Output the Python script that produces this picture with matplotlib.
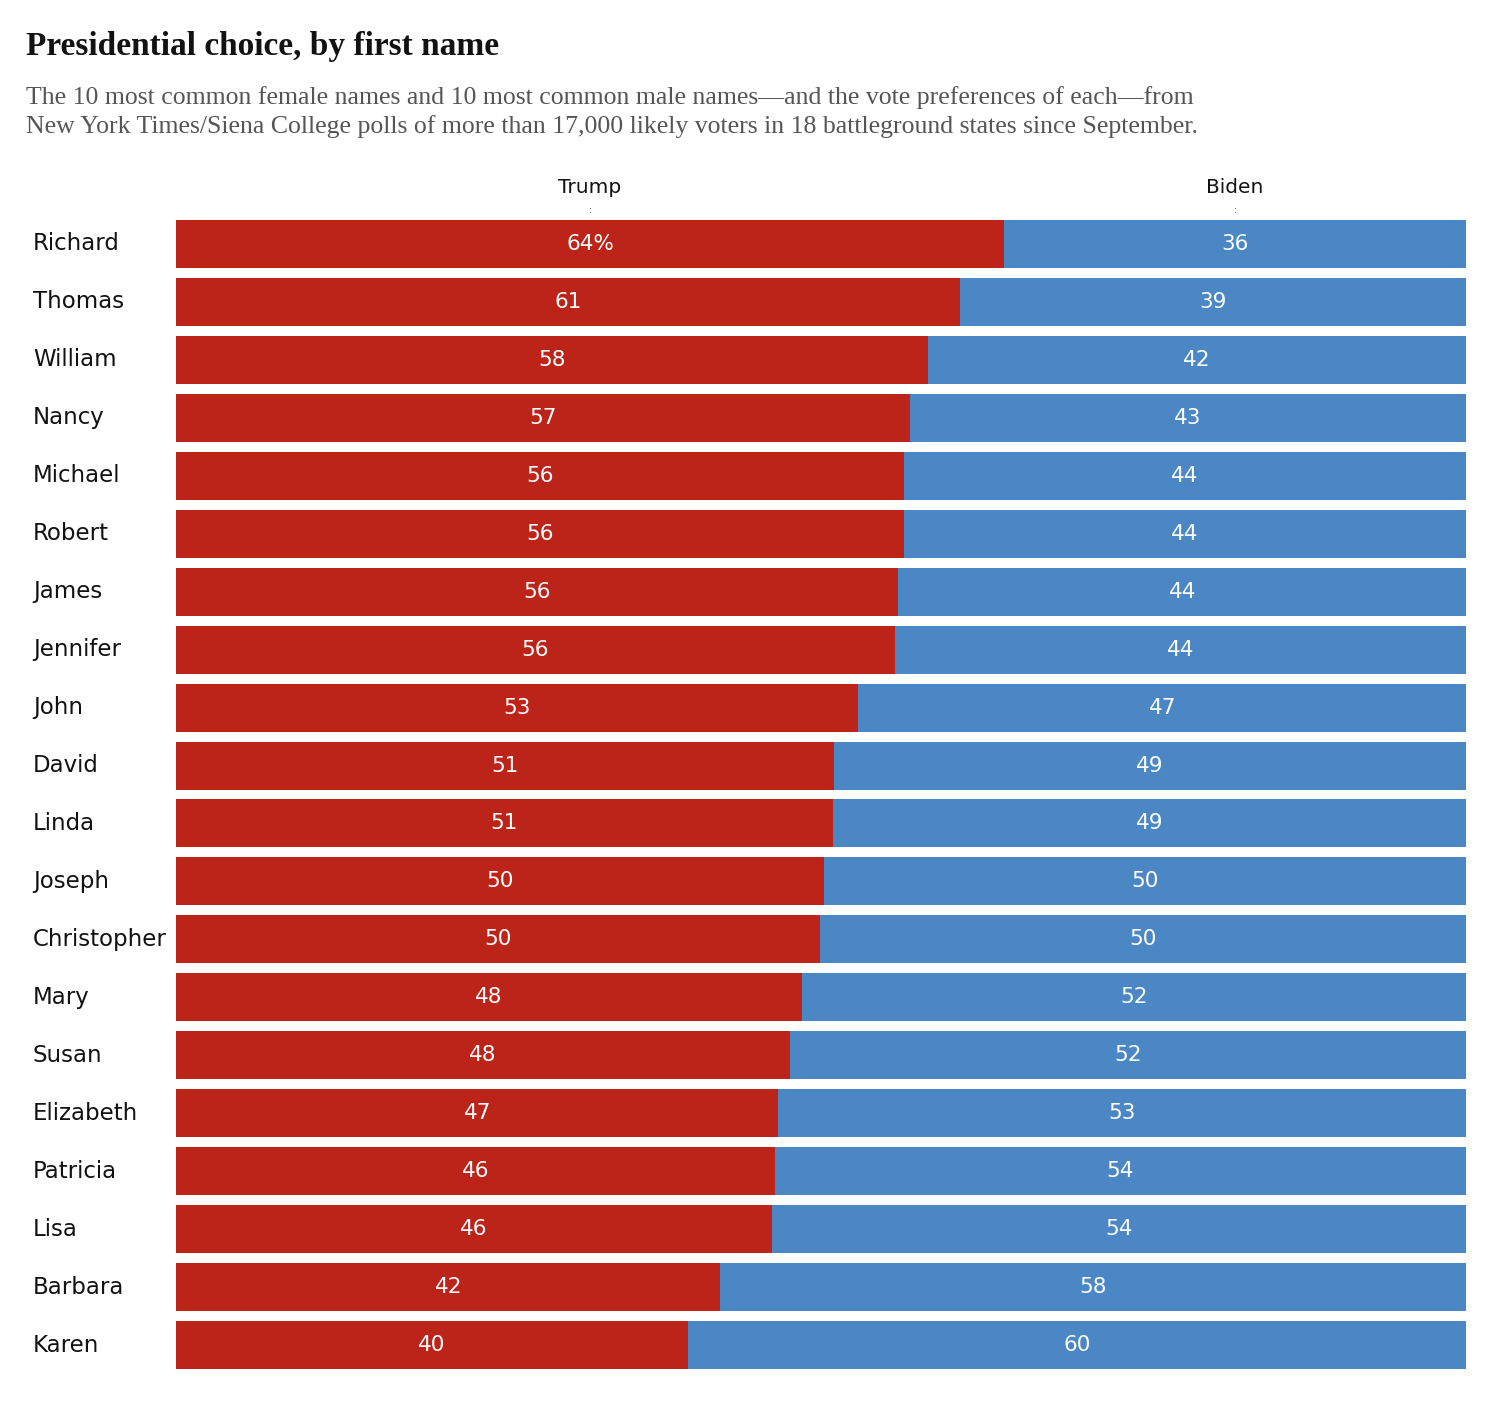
import matplotlib
matplotlib.use('Agg')
import matplotlib.pyplot as plt

names = ['Richard', 'Thomas', 'William', 'Nancy', 'Michael', 'Robert', 'James', 'Jennifer',
         'John', 'David', 'Linda', 'Joseph', 'Christopher', 'Mary', 'Susan', 'Elizabeth',
         'Patricia', 'Lisa', 'Barbara', 'Karen']
trump = [64.2, 60.8, 58.3, 56.9, 56.4, 56.4, 56.0, 55.7, 52.9, 51.0, 50.9, 50.2, 49.9,
         48.5, 47.6, 46.7, 46.4, 46.2, 42.2, 39.7]
trump_lbl = ['64%', '61', '58', '57', '56', '56', '56', '56', '53', '51', '51', '50', '50',
             '48', '48', '47', '46', '46', '42', '40']
biden_lbl = ['36', '39', '42', '43', '44', '44', '44', '44', '47', '49', '49', '50', '50',
             '52', '52', '53', '54', '54', '58', '60']

red = '#bd2419'
blue = '#4b87c5'
W, H = 1498, 1406

fig = plt.figure(figsize=(W / 100, H / 100), dpi=100)
ax = fig.add_axes([176 / W, 1 - 1369 / H, (1466 - 176) / W, (1369 - 220) / H])

h = 48 / 58
pad = (1 - h) / 2
ys = range(len(names))
biden = [100 - t for t in trump]
ax.barh(ys, trump, height=h, color=red)
ax.barh(ys, biden, left=trump, height=h, color=blue)
for i in ys:
    ax.text(trump[i] / 2, i, trump_lbl[i], color='white', ha='center', va='center', fontsize=15.5)
    ax.text(trump[i] + biden[i] / 2, i, biden_lbl[i], color='white', ha='center', va='center', fontsize=15.5)
    ax.text(-0.111 * 100, i, names[i], ha='left', va='center', fontsize=16.5, color='#121212')

ax.set_xlim(0, 100)
ax.set_ylim(len(names) - 1 + 0.5 + (0.5 - pad) * 0 - pad + 0.5 - 0.5 + 0.0, -0.5 + pad * 0)
ax.set_ylim(len(names) - 1 + h / 2, -h / 2)
ax.axis('off')

# column headers
ax.text(trump[0] / 2, -h / 2 - 0.56, 'Trump', ha='center', va='center', fontsize=14.5, color='#121212')
ax.text(trump[0] + biden[0] / 2, -h / 2 - 0.56, 'Biden', ha='center', va='center', fontsize=14.5, color='#121212')
ax.text(trump[0] / 2, -h / 2 - 0.18, ':', ha='center', va='center', fontsize=7, color='#555555')
ax.text(trump[0] + biden[0] / 2, -h / 2 - 0.18, ':', ha='center', va='center', fontsize=7, color='#555555')

fig.text(26 / W, 1 - 46 / H, 'Presidential choice, by first name', fontsize=24, fontweight='bold',
         family=['Liberation Serif', 'DejaVu Serif'], va='center', color='#121212')
fig.text(26 / W, 1 - 112 / H,
         'The 10 most common female names and 10 most common male names\u2014and the vote preferences of each\u2014from\n'
         'New York Times/Siena College polls of more than 17,000 likely voters in 18 battleground states since September.',
         fontsize=18.5, family=['Liberation Serif', 'DejaVu Serif'], va='center', color='#555555',
         linespacing=1.3)

fig.savefig('out.png', dpi=100)
